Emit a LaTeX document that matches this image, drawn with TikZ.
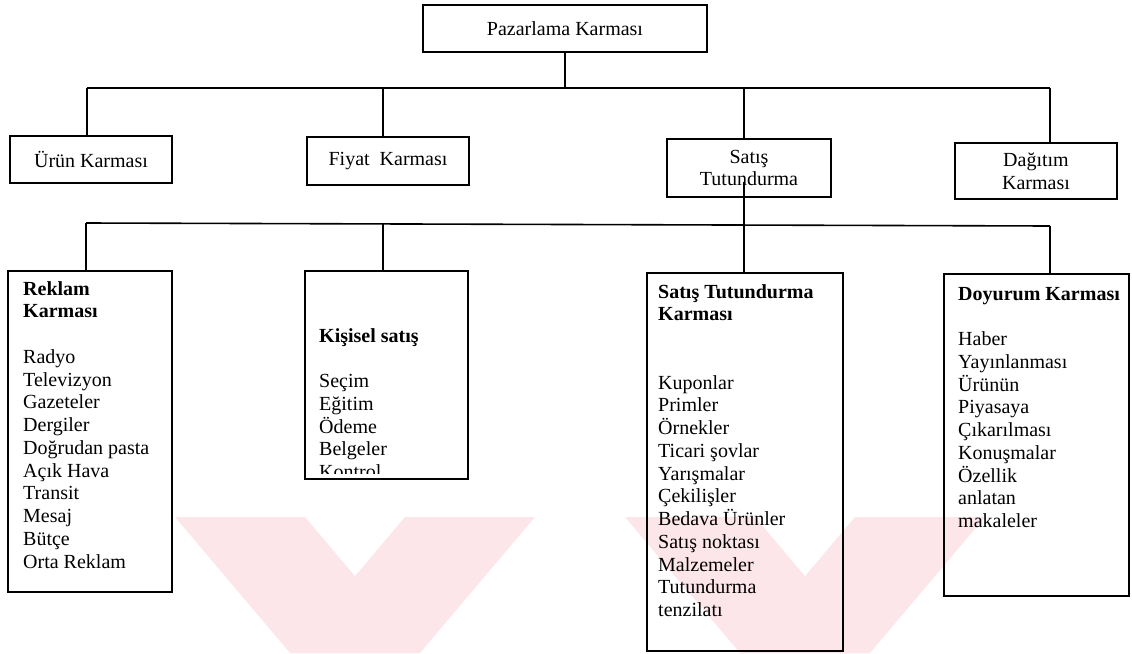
\documentclass[tikz,border=0pt]{standalone}
\usepackage{fontspec}
\setmainfont{Liberation Serif}
\begin{document}
\begin{tikzpicture}[x=1pt,y=-1pt,
  box/.style={draw,line width=1.6pt},
  wire/.style={line width=1.6pt},
  txt/.style={font=\fontsize{20}{22.75}\selectfont,inner sep=0pt},
  head/.style={txt,font=\fontsize{20}{22.75}\selectfont\bfseries},
  line/.style={txt,anchor=base west},
  hline/.style={head,anchor=base west},
  wm/.style={fill={rgb,255:red,252;green,230;blue,234},draw=none}]
\useasboundingbox (0,0) rectangle (1132,653);
% watermark
\fill[wm] (175,517) -- (305,517) -- (420,653) -- (290,653) -- cycle;
\fill[wm] (405,517) -- (535,517) -- (420,653) -- (290,653) -- cycle;
\fill[wm] (625,517) -- (755,517) -- (870,653) -- (740,653) -- cycle;
\fill[wm] (855,517) -- (985,517) -- (870,653) -- (740,653) -- cycle;
% level 0
\node[box,txt,minimum width=284pt,minimum height=47pt] (pk) at (565,28.5) {Pazarlama Karması};
% level 1
\node[box,txt,minimum width=162pt,minimum height=47pt] (ur) at (91,159.5) {Ürün Karması};
\node[box,txt,minimum width=162pt,minimum height=48pt] (fi) at (388,161) {Fiyat\ \ Karması};
\node[box,txt,minimum width=164pt,minimum height=58pt,align=center] (st) at (749,168) {Satış\\Tutundurma};
\node[box,txt,minimum width=162pt,minimum height=56pt,align=center] (da) at (1036,171) {Dağıtım\\Karması};
\coordinate (b1) at (565,88);
\draw[wire] (pk.south) -- (b1);
\draw[wire] (87,88) -- (1050,88);
\draw[wire] (87,88) -- (ur.north -| 87,0);
\draw[wire] (383,88) -- (fi.north -| 383,0);
\draw[wire] (744,88) -- (st.north -| 744,0);
\draw[wire] (1050,88) -- (da.north -| 1050,0);
% level 2 boxes
\node[box,minimum width=164pt,minimum height=321pt,inner sep=0pt] (rk) at (90,431.5) {};
\node[box,minimum width=163pt,minimum height=208pt,inner sep=0pt] (ks) at (386.5,375) {};
\node[box,minimum width=196pt,minimum height=378pt,inner sep=0pt] (sk) at (745,462) {};
\node[box,minimum width=185pt,minimum height=322pt,inner sep=0pt] (dk) at (1036.5,435) {};
\coordinate (b2) at (744,225);
\coordinate (sttop) at (744,182);
\draw[wire] (sttop) -- (b2);
\draw[wire] (86,223) -- (1050,226);
\draw[wire] (86,223) -- (rk.north -| 86,0);
\draw[wire] (383,224) -- (ks.north -| 383,0);
\draw[wire] (b2) -- (sk.north -| 744,0);
\draw[wire] (1050,226) -- (dk.north -| 1050,0);
% texts: Reklam
\node[hline] (r0) at (23,295) {Reklam};
\node[hline] (r1) at (23,317.75) {Karması};
\foreach \t [count=\i from 3] in {Radyo,Televizyon,Gazeteler,Dergiler,Doğrudan pasta,Açık Hava,Transit,Mesaj,Bütçe,Orta Reklam}
  \node[line] (r\i) at (23,295+22.75*\i) {\t};
% Kişisel
\node[hline] (k0) at (319,342) {Kişisel satış};
\foreach \t [count=\i from 2] in {Seçim,Eğitim,Ödeme,Belgeler}
  \node[line] (k\i) at (319,342+22.75*\i) {\t};
\begin{scope}
\clip (300,440) rectangle (470,473);
\node[line] (k6) at (319,478.5) {Kontrol};
\end{scope}
% Satış Tutundurma Karması
\node[hline] (s0) at (658,298) {Satış Tutundurma};
\node[hline] (s1) at (658,320.75) {Karması};
\foreach \t [count=\i from 4] in {Kuponlar,Primler,Örnekler,Ticari şovlar,Yarışmalar,Çekilişler,Bedava Ürünler,Satış noktası,Malzemeler,Tutundurma,tenzilatı}
  \node[line] (s\i) at (658,298+22.75*\i) {\t};
% Doyurum
\node[hline] (d0) at (958,300) {Doyurum Karması};
\foreach \t [count=\i from 2] in {Haber,Yayınlanması,Ürünün,Piyasaya,Çıkarılması,Konuşmalar,Özellik,anlatan,makaleler}
  \node[line] (d\i) at (958,300+22.75*\i) {\t};
\end{tikzpicture}
\end{document}
